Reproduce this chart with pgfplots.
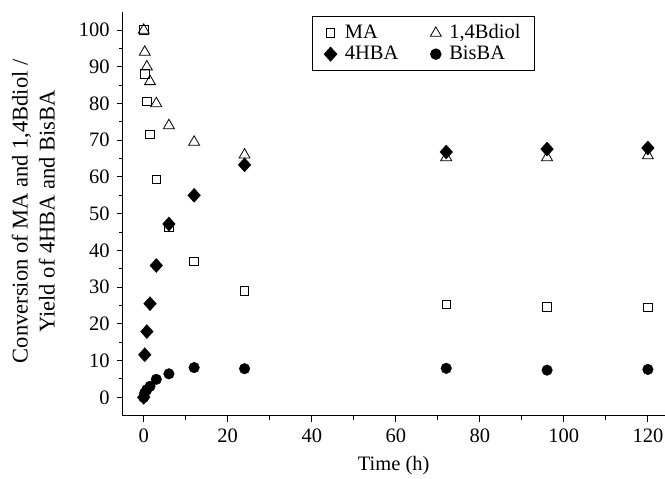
\documentclass[border=0pt]{standalone}
\usepackage{fontspec}
\setmainfont{Liberation Serif}
\usepackage{pgfplots}
\pgfplotsset{compat=1.18}
\usetikzlibrary{calc}

\begin{document}
\fontsize{20.5bp}{24bp}\selectfont
\begin{tikzpicture}
\begin{axis}[
  scale only axis,
  width=542bp, height=404bp,
  xmin=-5, xmax=124, ymin=-5, ymax=105,
  axis x line*=bottom, axis y line*=left,
  axis line style={line width=1.2bp},
  xtick={0,20,...,120}, ytick={0,10,...,100},
  minor x tick num=1, minor y tick num=1,
  tick align=outside,
  major tick length=6bp, minor tick length=4bp,
  tick style={line width=1bp, black},
  /pgf/number format/assume math mode=true,
  tick label style={font=\fontsize{20.5bp}{24bp}\selectfont},
  xlabel style={font=\fontsize{20.5bp}{24bp}\selectfont},
  xlabel={Time (h)},
  ylabel={Conversion of MA and 1,4Bdiol /\\Yield of 4HBA and BisBA},
  ylabel style={font=\fontsize{22.5bp}{27bp}\selectfont, align=center,
    at={(axis description cs:-0.112,0.506)}, anchor=south},
  legend columns=2,
  legend style={at={(0.349,0.989)}, anchor=north west, draw=black, line width=0.8bp,
    font=\fontsize{20.5bp}{24bp}\selectfont, inner xsep=12bp, inner ysep=6bp,
    /tikz/every odd column/.append style={column sep=6bp},
    /tikz/every even column/.append style={column sep=30bp}},
  legend cell align=left,
  clip=false,
]
\coordinate (O) at (rel axis cs:0,0);

\addplot[only marks, mark=square, mark size=4.3bp, mark options={line width=0.8bp, black}] coordinates {
  (0,100)(0.25,88)(0.75,80.6)(1.5,71.6)(3,59.3)(6,46.3)(12,37)(24,29)(72,25.3)(96,24.7)(120,24.5)};
\addlegendentry{MA}

\addplot[only marks, mark=triangle, mark size=6.3bp, mark options={line width=0.8bp, black}] coordinates {
  (0,100)(0.25,94)(0.75,90)(1.5,86)(3,80)(6,74)(12,69.5)(24,66)(72,65.3)(96,65.3)(120,65.8)};
\addlegendentry{1,4Bdiol}

\addplot[only marks, mark=diamond*, mark size=7bp, mark options={xscale=1.2, black, fill=black}] coordinates {
  (0,0)(0.25,11.6)(0.75,17.9)(1.5,25.5)(3,35.9)(6,47.2)(12,55)(24,63.3)(72,66.8)(96,67.6)(120,67.9)};
\addlegendentry{4HBA}

\addplot[only marks, mark=*, mark size=5.3bp, mark options={black, fill=black}] coordinates {
  (0,0)(0.25,1.2)(0.75,2.1)(1.5,3)(3,4.9)(6,6.4)(12,8.1)(24,7.8)(72,7.9)(96,7.4)(120,7.6)};
\addlegendentry{BisBA}
\end{axis}
\pgfresetboundingbox
\path[use as bounding box] ($(O)+(-122.7bp,-63.3bp)$) rectangle ++(665bp,479bp);
\end{tikzpicture}
\end{document}
